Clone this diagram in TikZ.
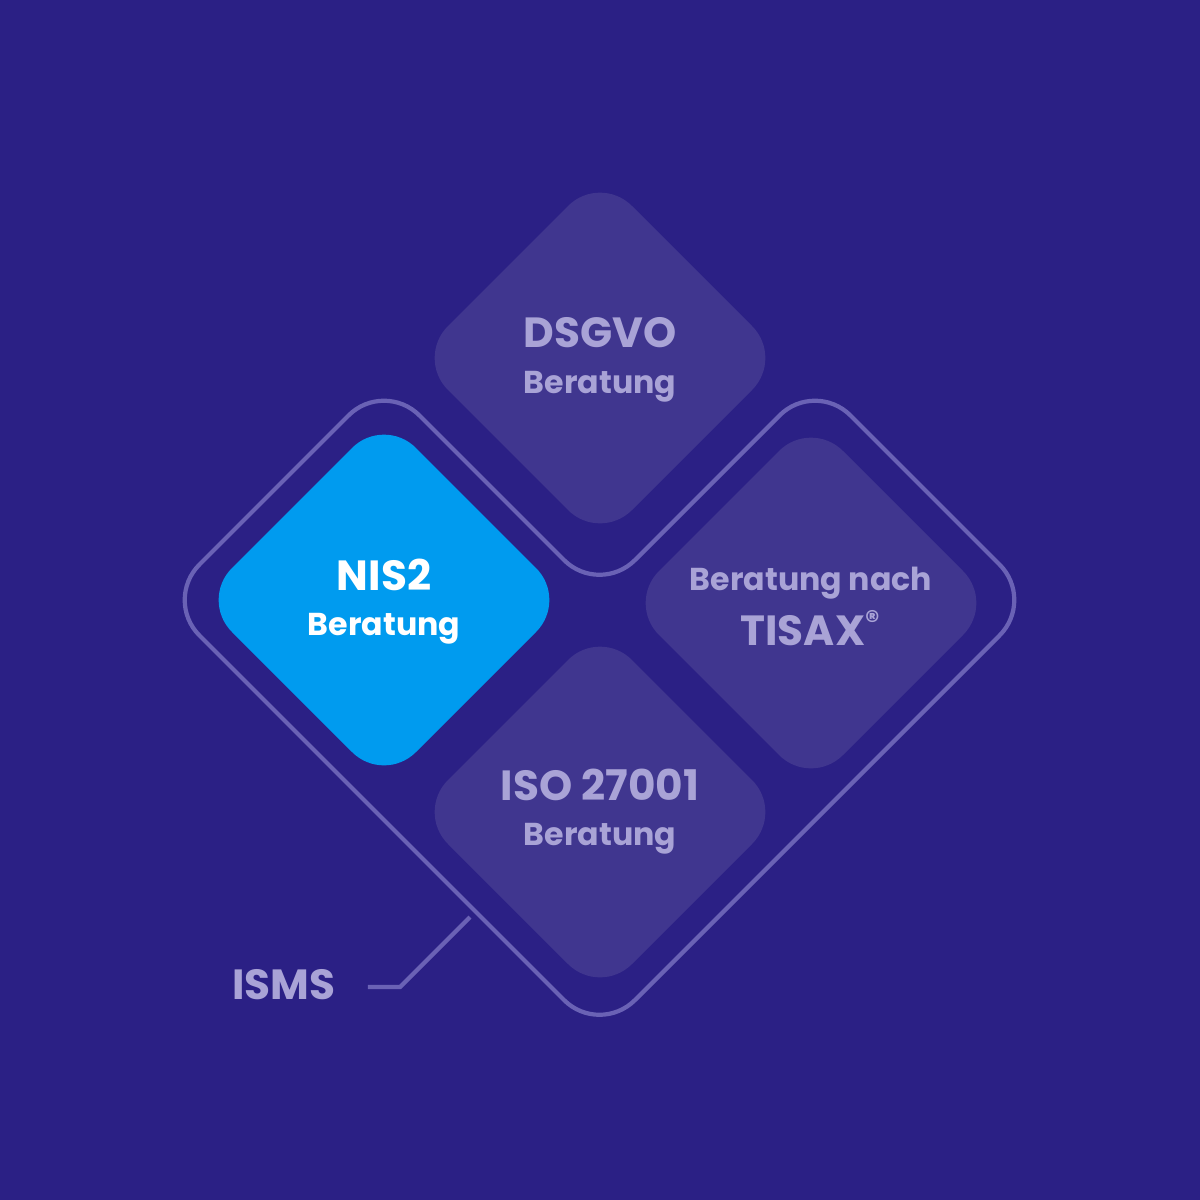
\documentclass[tikz,border=0pt]{standalone}
\usepackage{fontspec}
\setmainfont{Poppins}
\usetikzlibrary{positioning, calc}
\definecolor{bgcol}{HTML}{2B2085}
\definecolor{tilecol}{HTML}{40368F}
\definecolor{tiletext}{HTML}{A9A3D6}
\definecolor{linecol}{HTML}{6A62B5}
\definecolor{nisblue}{HTML}{009BEF}
\tikzset{
  tile/.style={fill=tilecol, rounded corners=0.45cm},
  title/.style={text=tiletext, font=\fontsize{12}{14}\selectfont\bfseries},
  sub/.style={text=tiletext, font=\fontsize{9}{11}\selectfont\bfseries}
}
\newcommand{\tiledia}[3]{% centre x, centre y, style
  \fill[tile,#3] (#1-184,#2) -- (#1,#2-184) -- (#1+184,#2) -- (#1,#2+184) -- cycle;}
\begin{document}
\begin{tikzpicture}[x=0.01cm, y=-0.01cm]
\fill[bgcol] (0,0) rectangle (1200,1200);
% outer ISMS outline
\draw[linecol, line width=1.2pt, rounded corners=0.5cm]
  (164,600) -- (384,380) -- (599.5,595.5) -- (815,380) -- (1035,600) -- (599.5,1035.5) -- cycle;
% tiles
\tiledia{600}{358}{}
\tiledia{811}{603}{}
\tiledia{600}{812}{}
\tiledia{384}{600}{fill=nisblue}
% labels
\node[title] (dsgvo) at (600,333) {DSGVO};
\node[sub] (dsgvosub) at (600,387) {Beratung};
\node[title, text=white] (nis) at (384,575) {NIS2};
\node[sub, text=white] (nissub) at (384,629) {Beratung};
\node[sub] (tisaxsub) at (811,583) {Beratung nach};
\node[title] (tisax) at (811,628) {TISAX\textsuperscript{®}};
\node[title] (iso) at (600,785) {ISO 27001};
\node[sub] (isosub) at (600,839) {Beratung};
\node[title] (isms) at (284,985) {ISMS};
% connector
\coordinate (hook) at (470,917);
\draw[linecol, line width=1.2pt] ($(isms.east)+(20,2)$) -- (400,987) -- (hook);
\end{tikzpicture}
\end{document}
